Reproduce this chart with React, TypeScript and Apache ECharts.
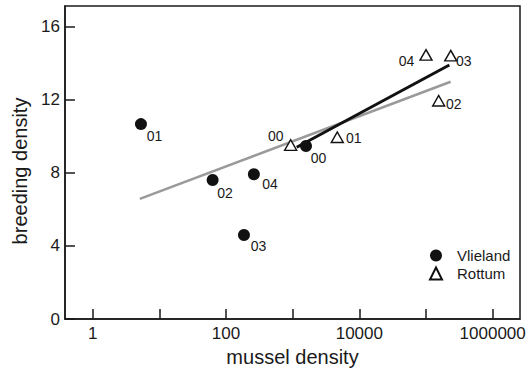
import React, { useEffect, useRef } from 'react';
import * as echarts from 'echarts';

const FONT = '"Liberation Sans", Arial, Helvetica, sans-serif';
const INK = '#1a1a1a';

// Vlieland (filled circles)
const vlielandYears = ['01', '02', '04', '03', '00'];
const vlielandMussel = [5.3, 63, 262, 186, 1585];
const vlielandBreeding = [10.68, 7.62, 7.93, 4.6, 9.48];

// Rottum (open triangles)
const rottumYears = ['00', '01', '02', '03', '04'];
const rottumMussel = [933, 4670, 155000, 235000, 100000];
const rottumBreeding = [9.53, 9.96, 11.96, 14.43, 14.47];

// Regression lines (end points)
const allFitMussel = [5.1, 234000];
const allFitBreeding = [6.58, 13.0];
const rottumFitMussel = [1150, 224000];
const rottumFitBreeding = [9.41, 13.92];

// Axis ticks / labels
const xTickValues = [1, 10, 100, 1000, 10000, 100000, 1000000];
const xLabelValues = [1, 100, 10000, 1000000];
const yTickValues = [0, 4, 8, 12, 16];

// label placement (offset from marker centre, alignment)
const vlielandLabelPos: Record<string, [number, number, string]> = {
  '01': [5.7, 12, 'left'],
  '02': [4.6, 13.2, 'left'],
  '04': [8.3, 9.9, 'left'],
  '03': [6.7, 11.3, 'left'],
  '00': [4.7, 12.5, 'left'],
};
const rottumLabelPos: Record<string, [number, number, string]> = {
  '00': [-6.4, -9.2, 'right'],
  '01': [9.4, 0.5, 'left'],
  '02': [8, 3.5, 'left'],
  '03': [6, 5.7, 'left'],
  '04': [-11, 5.5, 'right'],
};

export default function App() {
  const ref = useRef<HTMLDivElement>(null);
  useEffect(() => {
    if (!ref.current) return;
    const chart = echarts.init(ref.current, null, { renderer: 'svg' });
    const half = 6;
    const mkLabel = (pos: [number, number, string]) => ({
      position: [pos[0] + half, pos[1] + half],
      align: pos[2],
      verticalAlign: 'middle',
    });
    const option: any = {
      animation: false,
      backgroundColor: '#fff',
      textStyle: { fontFamily: FONT },
      grid: {
        left: 65, right: 9, top: 6, bottom: 54,
        show: true, borderColor: INK, borderWidth: 1.5,
        containLabel: false, outerBoundsMode: 'none',
      },
      legend: {
        data: ['Vlieland', 'Rottum'],
        orient: 'vertical',
        left: 424, top: 243,
        itemWidth: 12, itemHeight: 12, itemGap: 3,
        symbolKeepAspect: true,
        textStyle: { fontSize: 15, color: INK, fontFamily: FONT, padding: [0, 0, 0, 10] },
        selectedMode: false,
      },
      xAxis: {
        type: 'log', logBase: 10,
        min: Math.pow(10, -0.415), max: Math.pow(10, 6.41),
        name: 'mussel density', nameLocation: 'middle', nameGap: 27,
        nameTextStyle: { fontSize: 20, color: INK, fontFamily: FONT },
        axisLine: { show: true, lineStyle: { color: INK, width: 1.5 } },
        axisTick: { show: true, inside: true, length: 10, lineStyle: { color: INK, width: 1.5 }, customValues: xTickValues },
        axisLabel: {
          customValues: xLabelValues,
          formatter: (v: number) => String(Math.round(v)),
          fontSize: 17, color: INK, margin: 6, fontFamily: FONT,
        },
        splitLine: { show: false },
        minorTick: { show: false },
      },
      yAxis: {
        type: 'value', min: 0, max: 17.15,
        name: 'breeding density', nameLocation: 'middle', nameGap: 30, nameRotate: 90,
        nameTextStyle: { fontSize: 20, color: INK, fontFamily: FONT, padding: [0, 17, 0, 0] },
        axisLine: { show: true, lineStyle: { color: INK, width: 1.5 } },
        axisTick: { show: true, inside: true, length: 10, lineStyle: { color: INK, width: 1.5 }, customValues: yTickValues },
        axisLabel: { customValues: yTickValues, fontSize: 17, color: INK, margin: 5, fontFamily: FONT },
        splitLine: { show: false },
      },
      series: [
        {
          name: 'all', type: 'line', showSymbol: false, symbol: 'none', z: 1,
          lineStyle: { color: '#9a9a9a', width: 2.5 },
          data: allFitMussel.map((x, i) => [x, allFitBreeding[i]]),
        },
        {
          name: 'rottumFit', type: 'line', showSymbol: false, symbol: 'none', z: 2,
          lineStyle: { color: '#111', width: 3 },
          data: rottumFitMussel.map((x, i) => [x, rottumFitBreeding[i]]),
        },
        {
          name: 'Vlieland', type: 'scatter', symbol: 'circle', symbolSize: 12, z: 4,
          itemStyle: { color: '#111', opacity: 1 },
          label: { show: true, formatter: '{b}', fontSize: 14, color: INK, fontFamily: FONT },
          data: vlielandMussel.map((x, i) => ({
            name: vlielandYears[i],
            value: [x, vlielandBreeding[i]],
            label: mkLabel(vlielandLabelPos[vlielandYears[i]]),
          })),
        },
        {
          name: 'Rottum', type: 'scatter', symbol: 'triangle', symbolSize: [12, 10.5], z: 5,
          itemStyle: { color: '#fff', borderColor: '#111', borderWidth: 1.4, opacity: 1 },
          label: { show: true, formatter: '{b}', fontSize: 14, color: INK, fontFamily: FONT },
          data: rottumMussel.map((x, i) => ({
            name: rottumYears[i],
            value: [x, rottumBreeding[i]],
            label: mkLabel(rottumLabelPos[rottumYears[i]]),
          })),
        },
      ],
    };
    chart.setOption(option);
    return () => chart.dispose();
  }, []);
  return (
    <div
      ref={ref}
      style={{ position: 'absolute', left: 0, top: 0, width: 529, height: 373, background: '#fff' }}
    />
  );
}
